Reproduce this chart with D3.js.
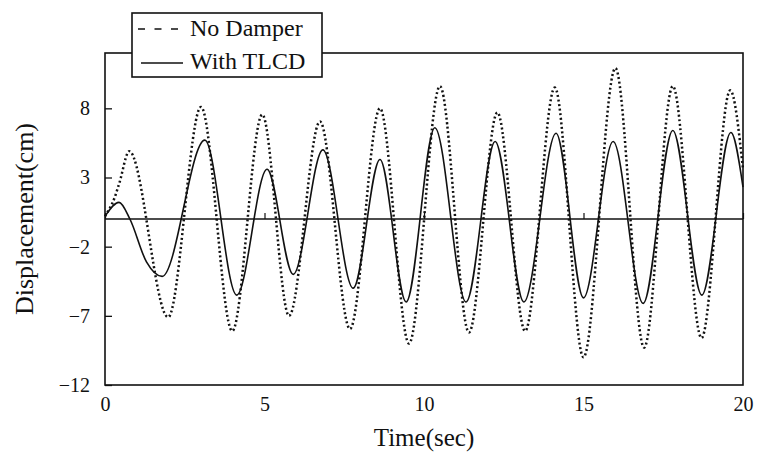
<!DOCTYPE html>
<html>
<head>
<meta charset="utf-8">
<script src="https://cdn.jsdelivr.net/npm/d3@7"></script>
<style>
  html, body { margin: 0; padding: 0; background: #fff; }
  svg { display: block; }
  svg text { font-family: "Liberation Serif", "Times New Roman", serif !important; }
</style>
</head>
<body>
<svg id="chart" width="757" height="452"></svg>
<script>
// ---- data ----
const xTicks = [0, 5, 10, 15, 20];
const yTicks = [-12, -7, -2, 3, 8];
const seriesNames = ["No Damper", "With TLCD"];

const timeNoDamper = [0, 0.31, 0.45, 0.76, 1.98, 3.01, 3.99, 4.93, 5.77, 6.74, 7.68, 8.62, 9.53, 10.5, 11.41, 12.3, 13.17, 14.1, 15.0, 16.0, 16.9, 17.8, 18.7, 19.6, 20];
const valueNoDamper = [0.2, 1.6, 2.6, 4.9, -7.1, 8.1, -8.1, 7.55, -7.0, 7.05, -7.95, 8.0, -9.0, 9.6, -8.2, 7.7, -8.1, 9.5, -10.0, 10.9, -9.3, 9.6, -8.6, 9.3, 3.6];

const timeTLCD = [0, 0.44, 0.78, 1.3, 1.79, 3.13, 4.13, 5.08, 5.9, 6.83, 7.78, 8.62, 9.44, 10.34, 11.32, 12.23, 13.13, 14.14, 15.0, 15.93, 16.87, 17.8, 18.71, 19.62, 20];
const valueTLCD = [0.2, 1.2, 0.0, -3.1, -4.15, 5.7, -5.5, 3.6, -4.0, 5.0, -5.0, 4.3, -6.0, 6.6, -6.0, 5.6, -6.0, 6.2, -5.7, 5.6, -6.1, 6.4, -5.5, 6.25, 2.3];

// ---- layout ----
const svg = d3.select("#chart");
const margin = { left: 105, top: 53, right: 14, bottom: 67 };
const W = 757 - margin.left - margin.right;
const H = 452 - margin.top - margin.bottom;

const x = d3.scaleLinear().domain([0, 20]).range([0, W]);
const y = d3.scaleLinear().domain([-12, 12]).range([H, 0]);

const g = svg.append("g").attr("transform", `translate(${margin.left},${margin.top})`);
const ink = "#111";

// zero line
g.append("line")
  .attr("x1", 0).attr("x2", W)
  .attr("y1", y(0)).attr("y2", y(0))
  .attr("stroke", ink).attr("stroke-width", 1.5);

// small x ticks on the zero line
const xZero = g.append("g").attr("transform", `translate(0,${y(0)})`)
  .call(d3.axisBottom(x).tickValues(xTicks).tickSize(-6).tickFormat(""));
xZero.select(".domain").remove();
xZero.selectAll(".tick line").attr("stroke", ink).attr("stroke-width", 1.2);

// x tick labels below frame
const xAx = g.append("g").attr("transform", `translate(0,${H})`)
  .call(d3.axisBottom(x).tickValues(xTicks).tickSize(0).tickPadding(12).tickFormat(d3.format("d")));
xAx.select(".domain").remove();
xAx.selectAll("text").attr("font-size", 20).attr("fill", ink);

// y axis: inward ticks
const yAx = g.append("g")
  .call(d3.axisLeft(y).tickValues(yTicks).tickSize(-7).tickPadding(15)
    .tickFormat(d => d < 0 ? "\u2212" + Math.abs(d) : String(d)));
yAx.select(".domain").remove();
yAx.selectAll(".tick line").attr("stroke", ink).attr("stroke-width", 1.3);
yAx.selectAll("text").attr("font-size", 20).attr("fill", ink);

// lines
const curve = d3.curveMonotoneX;
const lineGen = d3.line().x(d => x(d[0])).y(d => y(d[1])).curve(curve);
const noDamper = timeNoDamper.map((t, i) => [t, valueNoDamper[i]]);
const tlcd = timeTLCD.map((t, i) => [t, valueTLCD[i]]);

g.append("path").datum(tlcd)
  .attr("d", lineGen).attr("fill", "none")
  .attr("stroke", ink).attr("stroke-width", 1.6);

g.append("path").datum(noDamper)
  .attr("d", lineGen).attr("fill", "none")
  .attr("stroke", ink).attr("stroke-width", 2.5)
  .attr("stroke-dasharray", "2,2.6");

// frame
g.append("rect").attr("x", 0).attr("y", 0).attr("width", W).attr("height", H)
  .attr("fill", "none").attr("stroke", ink).attr("stroke-width", 1.6);

// axis titles
svg.append("text")
  .attr("x", margin.left + W / 2).attr("y", 446)
  .attr("text-anchor", "middle").attr("font-size", 25).attr("fill", ink)
  .text("Time(sec)");

svg.append("text")
  .attr("transform", `translate(33,${margin.top + H / 2}) rotate(-90)`)
  .attr("text-anchor", "middle").attr("font-size", 26).attr("fill", ink)
  .text("Displacement(cm)");

// legend
const lg = svg.append("g");
lg.append("rect").attr("x", 132).attr("y", 13).attr("width", 190).attr("height", 64)
  .attr("fill", "#fff").attr("stroke", ink).attr("stroke-width", 1.6);
lg.append("line").attr("x1", 138).attr("x2", 183).attr("y1", 29).attr("y2", 29)
  .attr("stroke", ink).attr("stroke-width", 1.5).attr("stroke-dasharray", "7,9.5");
lg.append("line").attr("x1", 141).attr("x2", 183).attr("y1", 63).attr("y2", 63)
  .attr("stroke", ink).attr("stroke-width", 1.5);
lg.append("text").attr("x", 190).attr("y", 36).attr("font-size", 24).attr("fill", ink)
  .text(seriesNames[0]);
lg.append("text").attr("x", 190).attr("y", 69).attr("font-size", 24).attr("fill", ink)
  .text(seriesNames[1]);
</script>
</body>
</html>
